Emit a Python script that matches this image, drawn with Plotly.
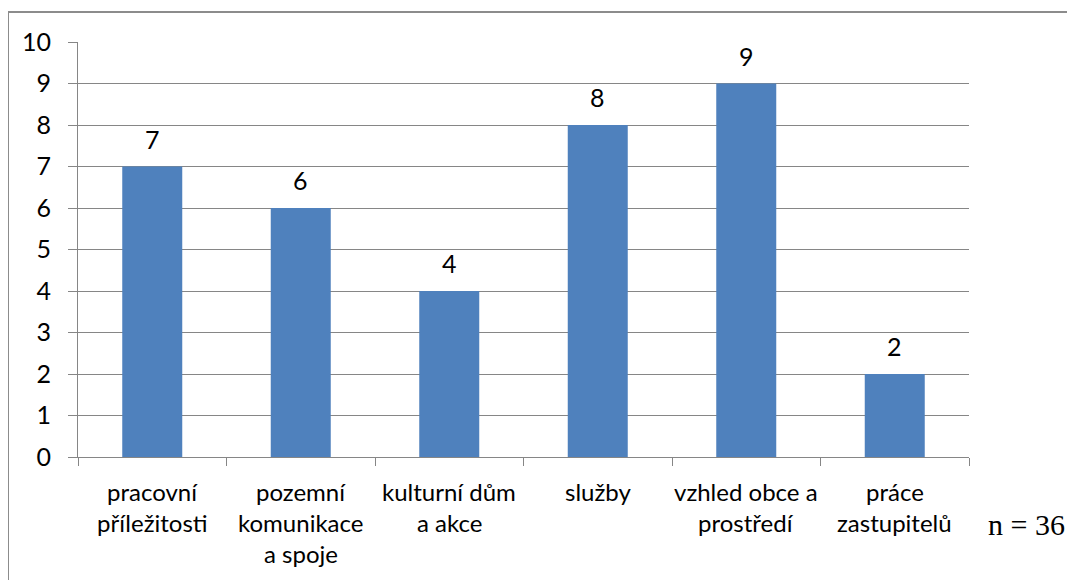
import plotly.graph_objects as go

categories = ["pracovní<br>příležitosti", "pozemní<br>komunikace<br>a spoje", "kulturní dům<br>a akce",
              "služby", "vzhled obce a<br>prostředí", "práce<br>zastupitelů"]
values = [7, 6, 4, 8, 9, 2]
y_ticks = list(range(0, 11))
note = "n = 36"

FONT = "Lato"
OFF = 8  # page body margin
W, H = 1075, 580
L, R, T = 78 - OFF, 1075 - 969 + OFF, 42 - OFF
B = 580 - (457 - OFF)
pw, ph = W - L - R, H - T - B


def py(y_page):
    return ((457 - y_page)) / ph


def px(x_page):
    return (x_page - 78) / pw


fig = go.Figure(go.Bar(x=categories, y=values, marker=dict(color="#4F81BD", line=dict(width=0)),
                       hoverinfo="skip"))

ann = []
for c, v in zip(categories, values):
    ann.append(dict(x=c, y=v, xref="x", yref="y", text=str(v), showarrow=False,
                    xanchor="center", yanchor="bottom", yshift=11,
                    font=dict(family=FONT, size=25, color="#000")))
    for i, line in enumerate(c.split("<br>")):
        ann.append(dict(x=c, y=0, xref="x", yref="paper", text=line, showarrow=False,
                        xanchor="center", yanchor="middle", yshift=-(34 + 31 * i),
                        font=dict(family=FONT, size=24, color="#000")))
ann.append(dict(x=px(1026), y=py(524), xref="paper", yref="paper", text=note,
                xanchor="center", yanchor="middle",
                showarrow=False, font=dict(family="Liberation Serif", size=30, color="#000")))

fig.update_layout(
    width=W, height=H, margin=dict(l=L, r=R, t=T, b=B, autoexpand=False),
    paper_bgcolor="white", plot_bgcolor="white", showlegend=False, bargap=0.596,
    annotations=ann,
    shapes=[dict(type="rect", xref="paper", yref="paper",
                 x0=px(8), x1=1.3, y0=-0.6, y1=py(12),
                 line=dict(color="#8C8C8C", width=2), fillcolor="rgba(0,0,0,0)", layer="below")],
    xaxis=dict(showticklabels=False, tickson="boundaries", ticks="outside", ticklen=8,
               tickcolor="#868686", showline=True, linecolor="#868686", linewidth=1,
               showgrid=False, fixedrange=True),
    yaxis=dict(range=[0, 10], tickvals=y_ticks, ticks="outside", ticklen=9, tickcolor="#868686",
               showgrid=True, gridcolor="#868686", gridwidth=1, showline=True, linecolor="#868686",
               zeroline=False, tickfont=dict(family=FONT, size=25, color="#000"), ticklabelstandoff=12),
)
fig.write_html("out.html")
